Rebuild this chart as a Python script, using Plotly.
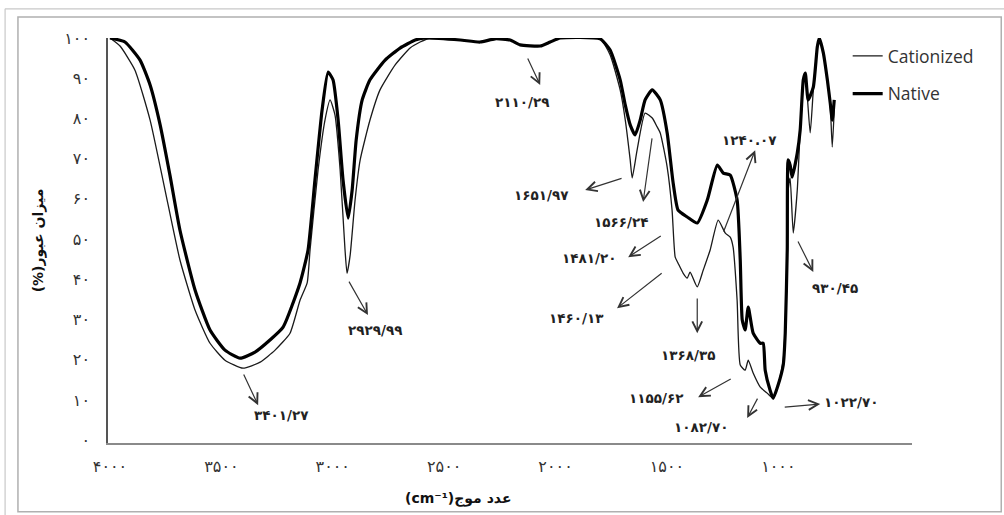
import plotly.graph_objects as go

# ---------------- data ----------------
cat_wn = [4000, 3955, 3888, 3820, 3753, 3686, 3618, 3551, 3484, 3403, 3326, 3259, 3192, 3147, 3115, 3102,
          3066, 3035, 3012, 2990, 2967, 2945, 2936, 2922, 2900, 2877, 2833, 2788, 2720, 2653, 2608, 2563,
          2428, 2339, 2271, 2204, 2159, 2069, 2024, 1979, 1800, 1755, 1710, 1687, 1665, 1656, 1634, 1598,
          1566, 1544, 1530, 1499, 1477, 1463, 1450, 1427, 1409, 1396, 1364, 1337, 1306, 1270, 1238, 1216,
          1203, 1185, 1171, 1149, 1135, 1113, 1081, 1050, 1023, 1001, 978, 965, 956, 947, 933, 915, 902,
          888, 879, 857, 843, 825, 816, 798, 780, 767, 758, 749]
cat_t = [100, 98, 92, 79.6, 62.2, 44.8, 32.3, 24.1, 19.9, 17.9, 19.4, 22.4, 26.6, 34.8, 39.1, 47.3,
         67.2, 79.6, 84.6, 80.8, 67.2, 47.3, 41.5, 46, 59.7, 69.7, 79.6, 87.1, 93.3, 97.5, 99, 100,
         99.5, 99, 99.8, 99.5, 98.3, 98, 99, 100, 99.8, 95.8, 87.1, 79.6, 69.7, 65.2, 72.1, 81.3,
         80.1, 77.9, 76.4, 67.9, 57.2, 45.5, 44, 41.5, 40.3, 41.8, 38.1, 42.3, 47.3, 54.7, 51.5, 50.5,
         48, 34.8, 18.7, 17.4, 19.9, 16.7, 13.2, 11.7, 10.4, 13.7, 19.9, 34.8, 62.2, 65.2, 51.5, 62.2, 77.1,
         89.6, 90.8, 76.4, 87.1, 97.8, 100, 96.3, 89.6, 83.3, 72.9, 82.1]

nat_wn = [4000, 3933, 3865, 3820, 3775, 3731, 3686, 3618, 3551, 3484, 3416, 3349, 3282, 3223, 3147, 3111,
          3080, 3048, 3021, 2999, 2976, 2954, 2931, 2913, 2895, 2868, 2833, 2765, 2698, 2630, 2586, 2428,
          2339, 2271, 2204, 2159, 2069, 2024, 1979, 1800, 1755, 1710, 1687, 1665, 1643, 1620, 1598, 1566,
          1530, 1499, 1472, 1450, 1409, 1364, 1319, 1274, 1247, 1216, 1185, 1171, 1162, 1149, 1135, 1113,
          1081, 1068, 1059, 1037, 1023, 1001, 978, 969, 960, 956, 947, 938, 915, 902, 888, 879, 866, 843,
          825, 816, 798, 780, 767, 758, 749]
nat_t = [100, 99, 94.5, 88.3, 78.4, 65.9, 52.2, 37.3, 27.4, 22.4, 20.4, 21.9, 24.9, 28.1, 39.1, 47.3,
         64.7, 82.1, 91.5, 89.6, 79.6, 64.7, 55.2, 62.2, 74.6, 84.6, 89.6, 94.5, 97.5, 99.5, 100, 99.5,
         99, 99.8, 99.5, 98.3, 98, 99, 100, 99.8, 97, 89.6, 83.3, 78.4, 75.9, 79.6, 84.6, 87.1,
         84.6, 76.4, 63.9, 57.2, 55.5, 54, 59.7, 68.4, 66.4, 65.9, 59.7, 44.8, 29.9, 27.4, 33.1, 26.6,
         24.1, 24.1, 17.4, 12.4, 10.4, 13.7, 18.7, 26.6, 47.3, 69.7, 68.4, 65.4, 71.4, 77.1, 89.6, 91.3, 84.6, 87.8,
         97.8, 100, 96.3, 89.6, 83.8, 79.6, 84.6]

series_names = ["Cationized", "Native"]

x_tickvals = [4000, 3500, 3000, 2500, 2000, 1500, 1000]
x_ticktext = ["۴۰۰۰", "۳۵۰۰", "۳۰۰۰", "۲۵۰۰", "۲۰۰۰", "۱۵۰۰", "۱۰۰۰"]
y_tickvals = [0, 10, 20, 30, 40, 50, 60, 70, 80, 90, 100]
y_ticktext = ["۰", "۱۰", "۲۰", "۳۰", "۴۰", "۵۰", "۶۰", "۷۰", "۸۰", "۹۰", "۱۰۰"]

x_title = "(cm⁻¹)عدد موج"
y_title = "(%)میزان عبور"

# peak labels: text, arrow tail (wn, T), arrow head (wn, T), text position (wn, T)
peak_labels = [
    ("۳۴۰۱/۲۷", (3403, 16.7), (3335, 8.7), (3228, 6.2)),
    ("۲۹۲۹/۹۹", (2931, 39.8), (2842, 31.1), (2810, 27.4)),
    ("۲۱۱۰/۲۹", (2128, 95.3), (2069, 88.3), (2150, 84.1)),
    ("۱۶۵۱/۹۷", (1697, 65.2), (1867, 62.2), (2062, 61.0)),
    ("۱۵۶۶/۲۴", (1566, 75.4), (1607, 59.2), (1706, 54.2)),
    ("۱۴۸۱/۲۰", (1521, 51.0), (1674, 45.5), (1849, 45.3)),
    ("۱۴۶۰/۱۳", (1517, 41.8), (1724, 32.8), (1908, 30.3)),
    ("۱۳۶۸/۳۵", (1364, 35.6), (1364, 26.6), (1405, 21.1)),
    ("۱۱۵۵/۶۲", (1207, 15.4), (1360, 10.7), (1548, 10.4)),
    ("۱۰۸۲/۷۰", (1090, 10.7), (1140, 5.5), (1346, 3.2)),
    ("۱۰۲۲/۷۰", (978, 8.2), (812, 9.0), (673, 9.5)),
    ("۹۳۰/۴۵", (915, 49.8), (843, 41.8), (745, 37.8)),
    ("۱۲۴۰.۰۷", (1248, 51.5), (1104, 72.1), (1131, 74.6)),
]

# ---------------- figure ----------------
fig = go.Figure()
fig.add_trace(go.Scatter(x=cat_wn, y=cat_t, mode="lines", name=series_names[0],
                         line=dict(color="#1a1a1a", width=1.3, shape="spline", smoothing=0.5),
                         legendgroup="a"))
fig.add_trace(go.Scatter(x=nat_wn, y=nat_t, mode="lines", name=series_names[1],
                         line=dict(color="#000000", width=3.2, shape="spline", smoothing=0.5),
                         legendgroup="b"))

annots = []
for txt, tail, head, tpos in peak_labels:
    annots.append(dict(x=head[0], y=head[1], ax=tail[0], ay=tail[1], axref="x", ayref="y",
                       xref="x", yref="y", text="", showarrow=True, arrowhead=5, arrowsize=1.6,
                       arrowwidth=1.2, arrowcolor="#333333"))
    annots.append(dict(x=tpos[0], y=tpos[1], xref="x", yref="y", text=txt, showarrow=False,
                       xanchor="center", yanchor="middle",
                       font=dict(family="DejaVu Sans", size=13.5, color="#222222", weight="bold")))

# axis titles
annots.append(dict(x=0.435, y=-0.137, xref="paper", yref="paper", text=x_title, showarrow=False,
                   xanchor="center", yanchor="middle",
                   font=dict(family="DejaVu Sans", size=14, color="#111111", weight="bold")))
annots.append(dict(x=-0.086, y=0.5, xref="paper", yref="paper", text=y_title, showarrow=False,
                   xanchor="center", yanchor="middle",
                   textangle=-90, font=dict(family="DejaVu Sans", size=14, color="#111111", weight="bold")))

shapes = [
    dict(type="rect", xref="paper", yref="paper", x0=-0.112, x1=1.111, y0=-0.170, y1=1.052,
         line=dict(color="#b0b0b0", width=1.5)),
    dict(type="line", xref="paper", yref="paper", x0=-0.128, x1=1.14, y0=1.072, y1=1.072,
         line=dict(color="#c8c8c8", width=1.2)),
    dict(type="line", xref="paper", yref="paper", x0=-0.128, x1=-0.128, y0=1.072, y1=-0.19,
         line=dict(color="#c8c8c8", width=1.2)),
]

fig.update_layout(
    width=1004, height=515,
    margin=dict(l=108, r=92, t=38, b=72),
    paper_bgcolor="white", plot_bgcolor="white",
    showlegend=True,
    legend=dict(x=0.920, y=1.0, xanchor="left", yanchor="top", bgcolor="rgba(0,0,0,0)",
                font=dict(family="Open Sans", size=17.5, color="#333333"),
                tracegroupgap=12, traceorder="grouped"),
    annotations=annots,
    shapes=shapes,
    xaxis=dict(range=[4009, 400], tickvals=x_tickvals, ticktext=x_ticktext, showgrid=False,
               zeroline=False, showline=True, linecolor="#8a8a8a", linewidth=2, ticks="",
               ticklabelstandoff=8,
               tickfont=dict(family="DejaVu Sans", size=16, color="#333333")),
    yaxis=dict(range=[-0.7, 100], tickvals=y_tickvals, ticktext=y_ticktext, showgrid=False,
               zeroline=False, showline=True, linecolor="#555555", linewidth=1.5, ticks="",
               ticklabelstandoff=13,
               tickfont=dict(family="DejaVu Sans", size=16, color="#333333")),
)

fig.write_html("out.html", config={"displayModeBar": False},
               post_script="document.body.style.margin='0';document.body.style.overflow='hidden';")
